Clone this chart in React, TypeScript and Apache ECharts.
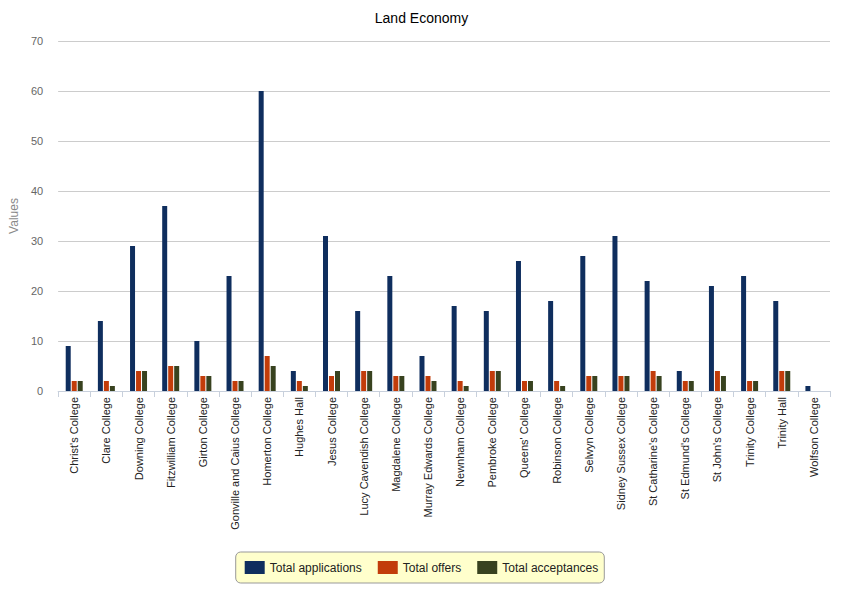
import React, { useEffect, useRef } from "react";
import * as echarts from "echarts";

const colleges = [
  "Christ's College", "Clare College", "Downing College", "Fitzwilliam College", "Girton College",
  "Gonville and Caius College", "Homerton College", "Hughes Hall", "Jesus College", "Lucy Cavendish College",
  "Magdalene College", "Murray Edwards College", "Newnham College", "Pembroke College", "Queens' College",
  "Robinson College", "Selwyn College", "Sidney Sussex College", "St Catharine's College", "St Edmund's College",
  "St John's College", "Trinity College", "Trinity Hall", "Wolfson College",
];
const applications = [9, 14, 29, 37, 10, 23, 60, 4, 31, 16, 23, 7, 17, 16, 26, 18, 27, 31, 22, 4, 21, 23, 18, 1];
const offers = [2, 2, 4, 5, 3, 2, 7, 2, 3, 4, 3, 3, 2, 4, 2, 2, 3, 3, 4, 2, 4, 2, 4, 0];
const acceptances = [2, 1, 4, 5, 3, 2, 5, 1, 4, 4, 3, 2, 1, 4, 2, 1, 3, 3, 3, 2, 3, 2, 4, 0];
const seriesNames = ["Total applications", "Total offers", "Total acceptances"];
const colors = ["#0f2e5e", "#c23c0a", "#38421f"];

export default function App() {
  const ref = useRef<HTMLDivElement>(null);
  useEffect(() => {
    const chart = echarts.init(ref.current!, null, { renderer: "svg" });
    const font = "'Liberation Sans', Arial, sans-serif";
    const mk = (name: string, data: number[], color: string) => ({
      name,
      type: "bar",
      data,
      barWidth: 5,
      barGap: "20%",
      itemStyle: { color },
    });
    chart.setOption({
      animation: false,
      title: {
        text: "Land Economy",
        left: "center",
        top: 6,
        textStyle: { fontFamily: font, fontSize: 14, fontWeight: "normal", color: "#000" },
      },
      legend: {
        bottom: 6,
        left: "center",
        itemWidth: 20,
        itemHeight: 13,
        itemGap: 16,
        padding: [9, 6, 9, 9],
        backgroundColor: "#ffffcc",
        borderColor: "#999",
        borderWidth: 1,
        borderRadius: 5,
        textStyle: { fontFamily: font, fontSize: 12, color: "#222" },
        data: seriesNames.map((n) => ({ name: n, icon: "rect" })),
      },
      grid: { left: 57, right: 13, top: 41, bottom: 198, containLabel: false },
      xAxis: {
        type: "category",
        data: colleges,
        axisLine: { lineStyle: { color: "#c8d0dc" } },
        axisTick: { show: true, length: 6, lineStyle: { color: "#c8d0dc" } },
        axisLabel: { rotate: 90, interval: 0, fontFamily: font, fontSize: 11, color: "#222", margin: 6 },
      },
      yAxis: {
        type: "value",
        min: 0,
        max: 70,
        interval: 10,
        name: "Values",
        nameLocation: "middle",
        nameGap: 38,
        nameTextStyle: { fontFamily: font, fontSize: 12, color: "#888" },
        axisLine: { show: false },
        axisTick: { show: false },
        axisLabel: { fontFamily: font, fontSize: 11, color: "#666", margin: 15 },
        splitLine: { lineStyle: { color: "#cccccc" } },
      },
      series: [
        mk(seriesNames[0], applications, colors[0]),
        mk(seriesNames[1], offers, colors[1]),
        mk(seriesNames[2], acceptances, colors[2]),
      ],
    });
    return () => chart.dispose();
  }, []);
  return <div ref={ref} style={{ width: 843, height: 589, position: "absolute", left: 0, top: 0 }} />;
}
